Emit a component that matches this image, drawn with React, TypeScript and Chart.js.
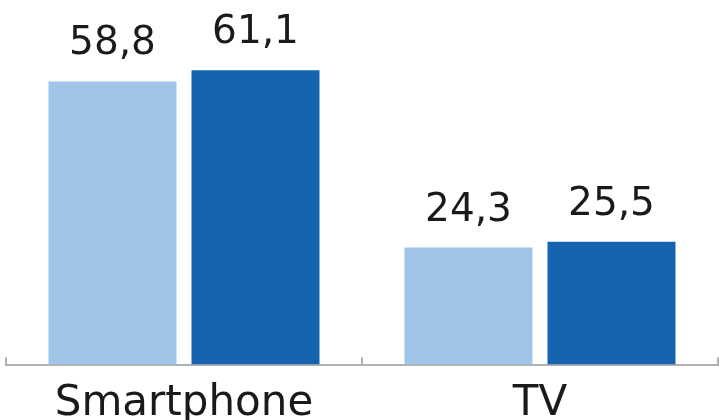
import React, { useEffect, useRef } from "react";
import { Chart, registerables } from "chart.js";

Chart.register(...registerables);

const categories = ["Smartphone", "TV"];
const seriesA = [58.8, 24.3];
const seriesB = [61.1, 25.5];
const colorA = "#9fc5e8";
const colorB = "#1664b0";

const valueLabels = {
  id: "valueLabels",
  afterDatasetsDraw(chart: any) {
    const ctx = chart.ctx;
    ctx.save();
    ctx.font = "39px 'DejaVu Sans'";
    ctx.fillStyle = "#1a1a1a";
    ctx.textAlign = "center";
    ctx.textBaseline = "alphabetic";
    chart.data.datasets.forEach((ds: any, i: number) => {
      const meta = chart.getDatasetMeta(i);
      meta.data.forEach((bar: any, j: number) => {
        const v = ds.data[j] as number;
        ctx.fillText(v.toFixed(1).replace(".", ","), bar.x, bar.y - 27);
      });
    });
    ctx.restore();
  },
};

const axisTicks = {
  id: "axisTicks",
  afterDraw(chart: any) {
    const ctx = chart.ctx;
    const xs = chart.scales.x;
    const bottom = chart.chartArea.bottom;
    ctx.save();
    ctx.strokeStyle = "#b0b0b0";
    ctx.lineWidth = 2;
    for (let i = 0; i <= categories.length; i++) {
      const x = xs.getPixelForValue(i - 0.5);
      ctx.beginPath();
      ctx.moveTo(x, bottom - 7);
      ctx.lineTo(x, bottom + 1);
      ctx.stroke();
    }
    ctx.restore();
  },
};

export default function App() {
  const ref = useRef<HTMLCanvasElement>(null);
  useEffect(() => {
    document.body.style.margin = "0";
    document.body.style.overflow = "hidden";
    const chart = new Chart(ref.current!, {
      type: "bar",
      data: {
        labels: categories,
        datasets: [
          { data: seriesA, backgroundColor: colorA, categoryPercentage: 0.8034, barPercentage: 0.895 },
          { data: seriesB, backgroundColor: colorB, categoryPercentage: 0.8034, barPercentage: 0.895 },
        ],
      },
      options: {
        responsive: false,
        animation: false,
        layout: { padding: { left: 6, right: 1, top: 0, bottom: -3 } },
        plugins: { legend: { display: false }, tooltip: { enabled: false } },
        scales: {
          y: { display: false, min: 0, max: 75.7 },
          x: {
            grid: { display: true, drawOnChartArea: false, drawTicks: false },
            border: { display: true, color: "#b0b0b0", width: 2 },
            ticks: {
              color: "#1a1a1a",
              padding: 14,
              font: { family: "'DejaVu Sans'", size: 42 },
            },
          },
        },
      },
      plugins: [valueLabels, axisTicks],
    });
    return () => chart.destroy();
  }, []);
  return (
    <div style={{ width: 719, height: 420, overflow: "hidden" }}>
      <canvas ref={ref} width={719} height={440} />
    </div>
  );
}
